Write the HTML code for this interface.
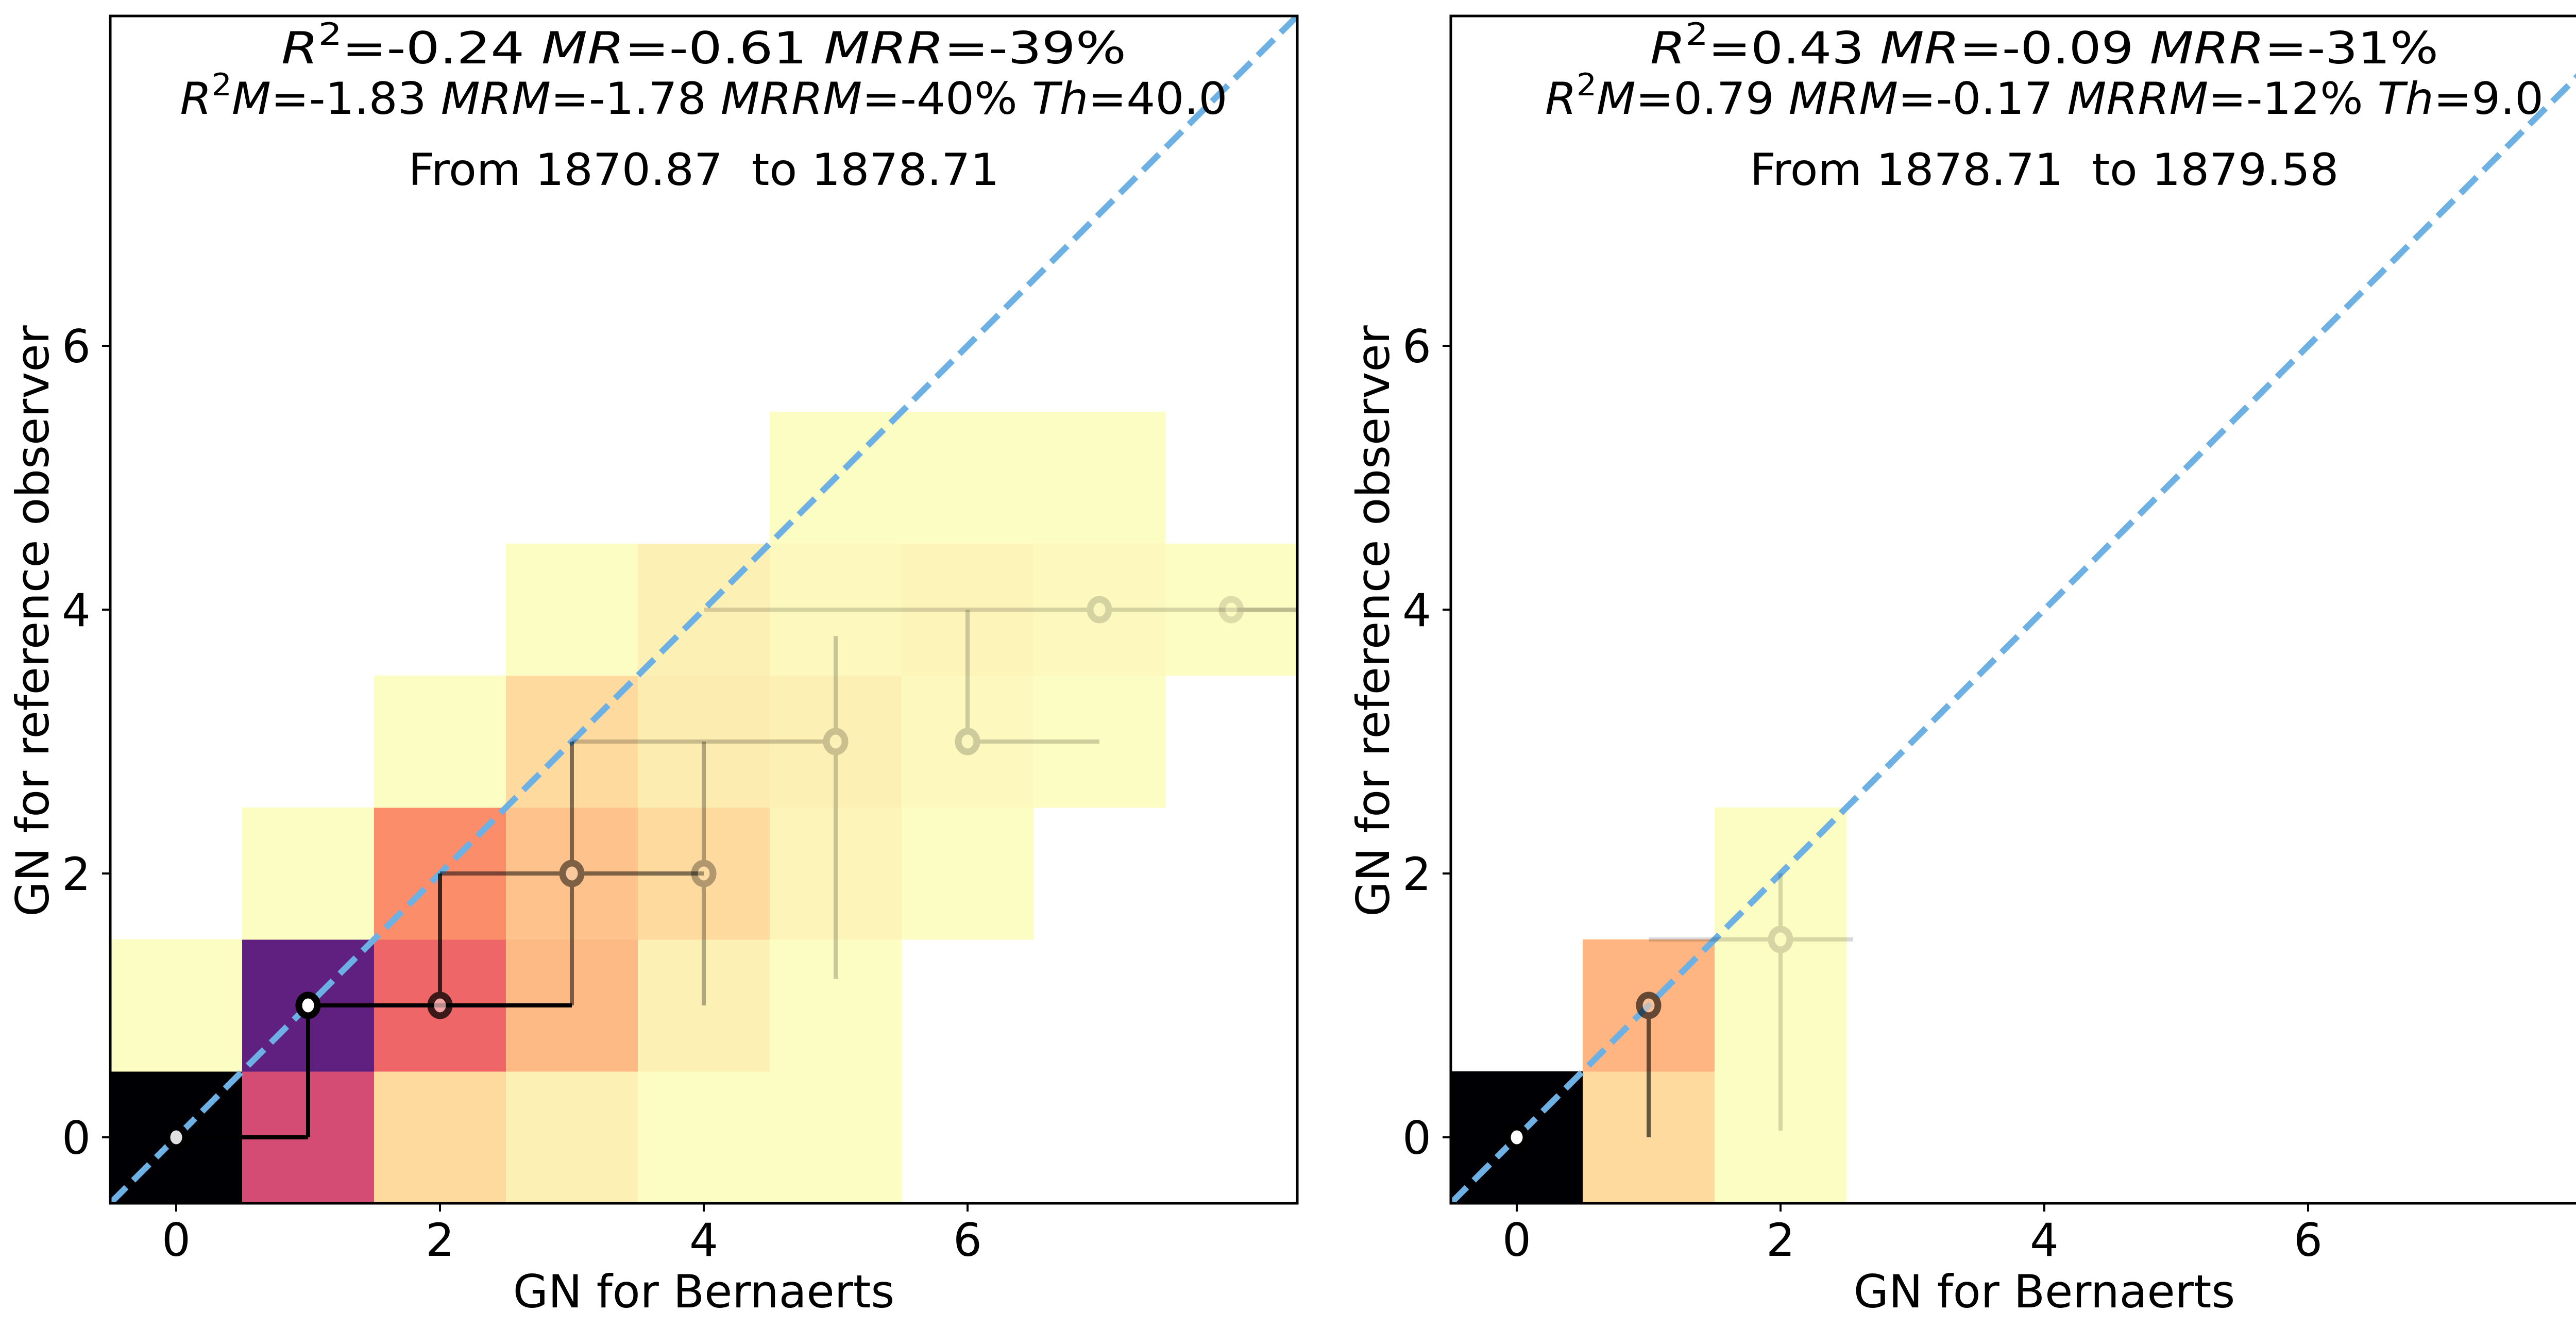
<!DOCTYPE html>
<html><head><meta charset="utf-8"><style>
html,body{margin:0;padding:0;background:#fff;}
svg{display:block;font-family:"DejaVu Sans","Liberation Sans",sans-serif;}
</style></head><body>
<svg id="fig" width="5149" height="2577" viewBox="0 0 5149 2577" xmlns="http://www.w3.org/2000/svg"></svg>
<script>
// ---- data ----
// heatmap cells: [x, y, intensity 0..1 (1 = darkest)]
const leftCells = [
 [0,0,1.0],[1,0,0.43],[2,0,0.08],[3,0,0.03],[4,0,0.0],[5,0,0.0],
 [0,1,0.0],[1,1,0.73],[2,1,0.34],[3,1,0.15],[4,1,0.03],[5,1,0.0],
 [1,2,0.0],[2,2,0.25],[3,2,0.13],[4,2,0.08],[5,2,0.02],[6,2,0.0],
 [2,3,0.0],[3,3,0.08],[4,3,0.04],[5,3,0.03],[6,3,0.01],[7,3,0.0],
 [3,4,0.0],[4,4,0.03],[5,4,0.01],[6,4,0.02],[7,4,0.01],[8,4,0.0],
 [5,5,0.0],[6,5,0.0],[7,5,0.0]
];
const rightCells = [
 [0,0,1.0],[1,0,0.08],[2,0,0.0],
 [1,1,0.16],[2,1,0.0],
 [2,2,0.0]
];
// points: [x, y, xlo, xhi, ylo, yhi, alpha, fill]
const leftPoints = [
 [0,0,0,1,0,0,1.0,"#e0e0e0"],
 [1,1,1,3,0,1,1.0,"#ffffff"],
 [2,1,2,2,1,2,0.75,"#f4b8b8"],
 [3,2,2,4,1,3,0.5,"#f8d0b0"],
 [4,2,4,4,1,3,0.3,"#f8e0b0"],
 [5,3,3,5,1.2,3.8,0.2,"#f8f0c0"],
 [6,3,6,7,3,4,0.18,"#f8f0c0"],
 [7,4,4,8.5,4,4,0.15,"#f8f0c0"],
 [8,4,8,8.6,4,4,0.12,"#f8f0c0"]
];
const rightPoints = [
 [0,0,0,0,0,0,1.0,"#ffffff"],
 [1,1,1,1,0,1,0.6,"#f8c8a8"],
 [2,1.5,1,2.55,0.05,2.0,0.15,"#f8f0c0"]
];
const xTicks = [0,2,4,6];
const yTicks = [0,2,4,6];
// stats text pieces: [text, italic]
const leftLine1 = [["=-0.24 ",0],["MR",1],["=-0.61 ",0],["MRR",1],["=-39%",0]];
const leftLine2 = [["M",1],["=-1.83 ",0],["MRM",1],["=-1.78 ",0],["MRRM",1],["=-40% ",0],["Th",1],["=40.0",0]];
const rightLine1 = [["=0.43 ",0],["MR",1],["=-0.09 ",0],["MRR",1],["=-31%",0]];
const rightLine2 = [["M",1],["=0.79 ",0],["MRM",1],["=-0.17 ",0],["MRRM",1],["=-12% ",0],["Th",1],["=9.0",0]];
const panels = [
 {x0:214, cells:leftCells, pts:leftPoints, t1:leftLine1, t2:leftLine2,
  t3:"From 1870.87\u00a0 to 1878.71", w1:1640, w2:2033, w3:1147},
 {x0:2816, cells:rightCells, pts:rightPoints, t1:rightLine1, t2:rightLine2,
  t3:"From 1878.71\u00a0 to 1879.58", w1:1530, w2:1938, w3:1143}
];
// ---- drawing ----
const NS="http://www.w3.org/2000/svg";
const svg=document.getElementById('fig');
const U=256, TOP=31, BOT=2335;
function mk(tag,attrs,parent){const e=document.createElementNS(NS,tag);for(const k in attrs)e.setAttribute(k,attrs[k]);(parent||svg).appendChild(e);return e;}
const magma=[[0,0,4],[20,14,54],[59,15,112],[100,26,128],[140,41,129],[183,55,121],[222,73,104],[247,112,92],[254,159,109],[254,207,146],[252,253,191]];
function color(t){const p=(1-t)*10;const i=Math.min(9,Math.floor(p));const f=p-i;const a=magma[i],b=magma[i+1];
 const c=a.map((v,k)=>Math.round(v+(b[k]-v)*f));
 const m=t>=0.99?1:0.96; return `rgb(${c.map(v=>Math.round(v*m+255*(1-m))).join(',')})`;}
panels.forEach((P,pi)=>{
 const sx=v=>P.x0+(v+0.5)*U, sy=v=>BOT-(v+0.5)*U;
 const g=mk('g',{});
 
 
 const clipId='clip'+pi;
 const cp=mk('clipPath',{id:clipId},g);mk('rect',{x:P.x0,y:TOP,width:9*U,height:BOT-TOP},cp);
 const plot=mk('g',{'clip-path':`url(#${clipId})`},g);
 P.cells.forEach(c=>{
  const r=mk('rect',{x:sx(c[0]-0.5),y:sy(c[1]+0.5),width:U+0.5,height:U+0.5,fill:color(c[2])},plot);
  
  
 });
 const diag=mk('line',{x1:sx(-0.5),y1:sy(-0.5),x2:sx(8.5),y2:sy(8.5),stroke:'#6cb0e4',
  'stroke-width':12,'stroke-dasharray':'44 19'},plot);
 
 
 P.pts.forEach(p=>{
  const pg=mk('g',{opacity:p[6]},plot);
  
  
  mk('line',{x1:sx(p[2]),y1:sy(p[1]),x2:sx(p[3]),y2:sy(p[1]),stroke:'#000','stroke-width':8},pg);
  mk('line',{x1:sx(p[0]),y1:sy(p[4]),x2:sx(p[0]),y2:sy(p[5]),stroke:'#000','stroke-width':8},pg);
  mk('ellipse',{cx:sx(p[0]),cy:sy(p[1]),rx:18,ry:20,fill:p[7],stroke:'#000','stroke-width':13},pg);
 });
 const frame=mk('rect',{x:P.x0,y:TOP,width:9*U,height:BOT-TOP,fill:'none',stroke:'#000','stroke-width':5},g);
 
 
 xTicks.forEach(t=>{
  mk('line',{x1:sx(t),y1:BOT,x2:sx(t),y2:BOT+16,stroke:'#000','stroke-width':4},g);
  const tx=mk('text',{x:sx(t),y:2437,'font-size':88,'text-anchor':'middle'},g);tx.textContent=t;
  
  
 });
 yTicks.forEach(t=>{
  mk('line',{x1:P.x0-16,y1:sy(t),x2:P.x0,y2:sy(t),stroke:'#000','stroke-width':4},g);
  const ty=mk('text',{x:P.x0-38,y:sy(t)+32,'font-size':88,'text-anchor':'end'},g);ty.textContent=t;
  
  
 });
 const cx=P.x0+4.5*U;
 const xl=mk('text',{x:cx,y:2537,'font-size':88,'text-anchor':'middle'},g);xl.textContent='GN for Bernaerts';
 
 
 const yl=mk('text',{x:0,y:0,'font-size':88,'text-anchor':'middle',transform:`translate(${P.x0-120},1205) rotate(-90)`},g);yl.textContent='GN for reference observer';
 
 
 function statLine(parts,y,w){
  const t=mk('text',{x:cx,y:y,'font-size':86,'text-anchor':'middle',textLength:w,lengthAdjust:'spacingAndGlyphs'},g);
  const r=mk('tspan',{'font-style':'italic'},t);r.textContent='R';
  const sp=mk('tspan',{'font-size':60,dy:-36},t);sp.textContent='2';
  parts.forEach((s,i)=>{
   const a={'font-style':s[1]?'italic':'normal'};
   if(i===0)a.dy=36;
   const ts=mk('tspan',a,t);ts.textContent=s[0];
  });
  return t;
 }
 const l1=statLine(P.t1,123,P.w1);
 
 
 const l2=statLine(P.t2,221,P.w2);
 
 
 const l3=mk('text',{x:cx,y:359,'font-size':86,'text-anchor':'middle',textLength:P.w3,lengthAdjust:'spacingAndGlyphs'},g);l3.textContent=P.t3;
 
 
});
</script>
</body></html>
